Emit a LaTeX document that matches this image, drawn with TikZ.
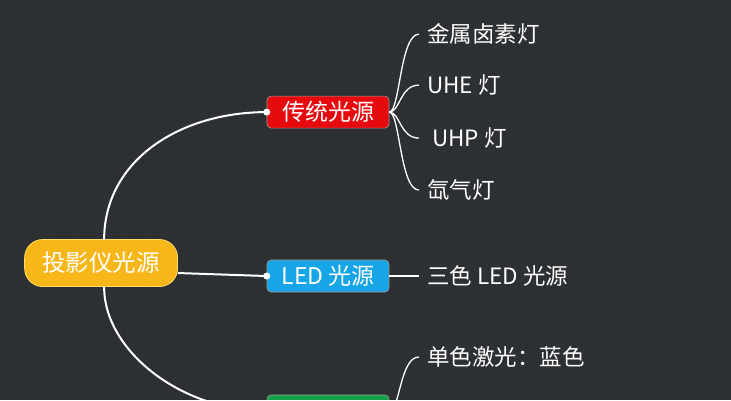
\documentclass[tikz,border=0pt]{standalone}
\usepackage{fontspec}
\setmainfont{Noto Sans CJK SC}
\begin{document}
\begin{tikzpicture}[x=1pt,y=-1pt,
  topic/.style={rounded corners=4pt,minimum width=122pt,minimum height=32pt,text=white,font=\fontsize{23}{24}\selectfont,inner sep=0pt,draw=white!60!black,line width=0.6pt},
  leaf/.style={anchor=west,text=white,font=\fontsize{22.5}{24}\selectfont,inner sep=0pt},
  link/.style={white,line width=2pt},
  thin/.style={white,line width=1.3pt}]
\fill[fill={rgb,255:red,45;green,48;blue,51}] (0,0) rectangle (731,400);
\foreach \i in {0,6,...,731}{\draw[black!80,opacity=0.25,line width=0.3pt] (\i,0)--(\i,400);}
\foreach \i in {0,6,...,400}{\draw[black!80,opacity=0.25,line width=0.3pt] (0,\i)--(731,\i);}
\begin{scope}
\clip (0,0) rectangle (731,400);
\node[rounded corners=18pt,minimum width=153pt,minimum height=47pt,fill={rgb,255:red,247;green,183;blue,24},draw={rgb,255:red,255;green,220;blue,100},text=white,font=\fontsize{23.5}{24}\selectfont,line width=0.8pt] (root) at (101,263) {投影仪光源};
\node[topic,fill={rgb,255:red,230;green,10;blue,15}] (red) at (328,112) {传统光源};
\node[topic,fill={rgb,255:red,22;green,165;blue,230}] (blue) at (328,276) {LED 光源};
\node[topic,fill={rgb,255:red,20;green,160;blue,70}] (green) at (328,411) {};
\coordinate (rt) at (104,240);
\coordinate (rb) at (104,287);
\draw[link] (rt) .. controls (104,160) and (180,112) .. (red.west);
\draw[link] (rb) .. controls (104,350) and (180,411) .. (green.west);
\draw[link] (root.east) ++(0,10) coordinate (re) -- (blue.west);
\fill[white] (red.west) circle (3.5pt);
\fill[white] (blue.west) circle (3.5pt);
\node[leaf] (l1) at (427,34) {金属卤素灯};
\node[leaf] (l2) at (427,85) {UHE 灯};
\node[leaf] (l3) at (432,138) {UHP 灯};
\node[leaf] (l4) at (427,190) {氙气灯};
\node[leaf] (l5) at (427,276) {三色 LED 光源};
\node[leaf] (l6) at (427,357) {单色激光：蓝色};
\foreach \l/\y in {l1/34,l2/85,l4/190}{
  \draw[thin] (red.east) .. controls (400,112) and (400,\y) .. ([xshift=-8pt]\l.west);}
\draw[thin] (red.east) .. controls (400,112) and (400,138) .. ([xshift=-13pt]l3.west);
\draw[thin] (blue.east) -- ([xshift=-8pt]l5.west);
\draw[thin] (green.east) .. controls (400,411) and (400,357) .. ([xshift=-8pt]l6.west);
\end{scope}
\end{tikzpicture}
\end{document}
